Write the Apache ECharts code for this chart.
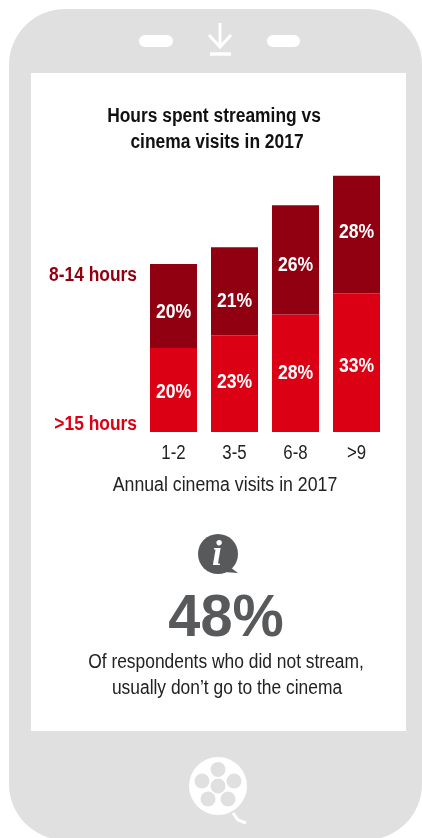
<!DOCTYPE html>
<html>
<head>
<meta charset="utf-8">
<style>
  html, body { margin: 0; padding: 0; background: #fff; }
  #chart { width: 422px; height: 838px; }
</style>
<script src="https://cdn.jsdelivr.net/npm/echarts@6/dist/echarts.min.js"></script>
</head>
<body>
<div id="chart"></div>
<script>
var categories = ['1-2', '3-5', '6-8', '>9'];
var over15Hours = [20, 23, 28, 33];
var hours8to14 = [20, 21, 26, 28];
var seriesNames = ['>15 hours', '8-14 hours'];

var FONT = '"Liberation Sans", Arial, sans-serif';
// the reference uses a narrow face, none is installed so squeeze the text
var NARROW = 0.87;
var GREY = '#e0e0e0';
var DARK = '#58595b';
var RED = '#dc0014';
var MAROON = '#900010';
// the labels are not centred in their bars in the reference (pixels)
var lowerNudge = [2, -1, 0, 4];
var upperNudge = [6, 10, 6, -2];

function text(x, y, str, size, color, weight, align, squeeze) {
  return {
    type: 'text', x: x, y: y, z: 5, scaleX: squeeze || NARROW,
    style: {
      text: str, fontFamily: FONT, fontSize: size, fill: color,
      fontWeight: weight || 'normal', align: align || 'center', verticalAlign: 'middle'
    }
  };
}
function circle(cx, cy, r, fill) {
  return { type: 'circle', z: 2, shape: { cx: cx, cy: cy, r: r }, style: { fill: fill } };
}
function line(x1, y1, x2, y2, w, color) {
  return {
    type: 'line', z: 2, shape: { x1: x1, y1: y1, x2: x2, y2: y2 },
    style: { stroke: color, lineWidth: w }
  };
}
function poly(points, color, w) {
  return {
    type: 'polyline', z: 2, shape: { points: points },
    style: { stroke: color, lineWidth: w, fill: null }
  };
}

var phone = [
  { type: 'rect', z: 0, shape: { x: 9, y: 9, width: 413, height: 831, r: 56 }, style: { fill: GREY } },
  { type: 'rect', z: 1, shape: { x: 31, y: 73, width: 375, height: 658 }, style: { fill: '#fff' } },
  { type: 'rect', z: 2, shape: { x: 139, y: 35, width: 34, height: 12, r: 6 }, style: { fill: '#fff' } },
  { type: 'rect', z: 2, shape: { x: 267, y: 35, width: 33, height: 12, r: 6 }, style: { fill: '#fff' } },
  line(220, 23, 220, 46, 3, '#fff'),
  poly([[209, 35], [220, 47], [231, 35]], '#fff', 3),
  line(210, 54, 231, 54, 3.5, '#fff'),
  // reel on the home button
  circle(218, 786, 29, '#fff'),
  circle(218, 769.5, 7.5, GREY),
  circle(202, 781, 7.5, GREY),
  circle(234, 781, 7.5, GREY),
  circle(218, 786, 7.5, GREY),
  circle(208, 799, 7.5, GREY),
  circle(228, 799, 7.5, GREY),
  poly([[233, 813], [238, 820], [246, 823]], '#fff', 3)
];

var info = [
  circle(218, 554, 20, DARK),
  { type: 'polygon', z: 2, shape: { points: [[226, 564], [238, 573], [224, 572]] }, style: { fill: DARK } },
  {
    type: 'text', x: 217, y: 556, z: 5,
    style: {
      text: 'i', fontFamily: '"Liberation Serif", serif', fontSize: 36, fontWeight: 'bold',
      fontStyle: 'italic', fill: '#fff', align: 'center', verticalAlign: 'middle'
    }
  }
];

var labels = [
  text(137, 275, seriesNames[1], 20, MAROON, 'bold', 'right'),
  text(137, 424, seriesNames[0], 20, RED, 'bold', 'right'),
  text(214, 116, 'Hours spent streaming vs', 20, '#111', 'bold'),
  text(217, 142, 'cinema visits in 2017', 20, '#111', 'bold'),
  text(225, 485, 'Annual cinema visits in 2017', 20, '#222', 'normal', 'center', 0.886),
  text(226, 619, '48%', 60, DARK, 'bold', 'center', 0.96),
  text(226, 662, 'Of respondents who did not stream,', 20, '#222'),
  text(227, 688, 'usually don\u2019t go to the cinema', 20, '#222')
];

function barSeries(name, values, color) {
  return {
    name: name, type: 'bar', stack: 'hours', barWidth: 47, data: values,
    itemStyle: { color: color }
  };
}

// value labels and category labels, squeezed, placed through the axes
var labelRows = categories.map(function(cat, i) {
  return [i, over15Hours[i], hours8to14[i], lowerNudge[i], upperNudge[i]];
});
function renderLabels(params, api) {
  var i = api.value(0), low = api.value(1), up = api.value(2);
  var lowPos = api.coord([i, low / 2]);
  var upPos = api.coord([i, low + up / 2]);
  var base = api.coord([i, 0]);
  function t(x, y, str, weight, color, squeeze) {
    return {
      type: 'text', x: x, y: y, scaleX: squeeze,
      style: {
        text: str, fontFamily: FONT, fontSize: 20, fontWeight: weight, fill: color,
        align: 'center', verticalAlign: 'middle'
      }
    };
  }
  return {
    type: 'group',
    children: [
      t(lowPos[0], lowPos[1] + api.value(3), low + '%', 'bold', '#fff', 0.88),
      t(upPos[0], upPos[1] + api.value(4), up + '%', 'bold', '#fff', 0.88),
      t(base[0], base[1] + 21, categories[i], 'normal', '#222', 0.84)
    ]
  };
}

var chart = echarts.init(document.getElementById('chart'));
chart.setOption({
  animation: false,
  grid: { left: 143, width: 244, top: 138, height: 294 },
  xAxis: {
    type: 'category', data: categories,
    axisLine: { show: false }, axisTick: { show: false }, axisLabel: { show: false }
  },
  yAxis: { type: 'value', min: 0, max: 70, show: false, splitLine: { show: false } },
  graphic: { elements: phone.concat(info, labels) },
  series: [
    barSeries(seriesNames[0], over15Hours, RED),
    barSeries(seriesNames[1], hours8to14, MAROON),
    { type: 'custom', z: 10, silent: true, data: labelRows, renderItem: renderLabels, clip: false }
  ]
});
</script>
</body>
</html>
